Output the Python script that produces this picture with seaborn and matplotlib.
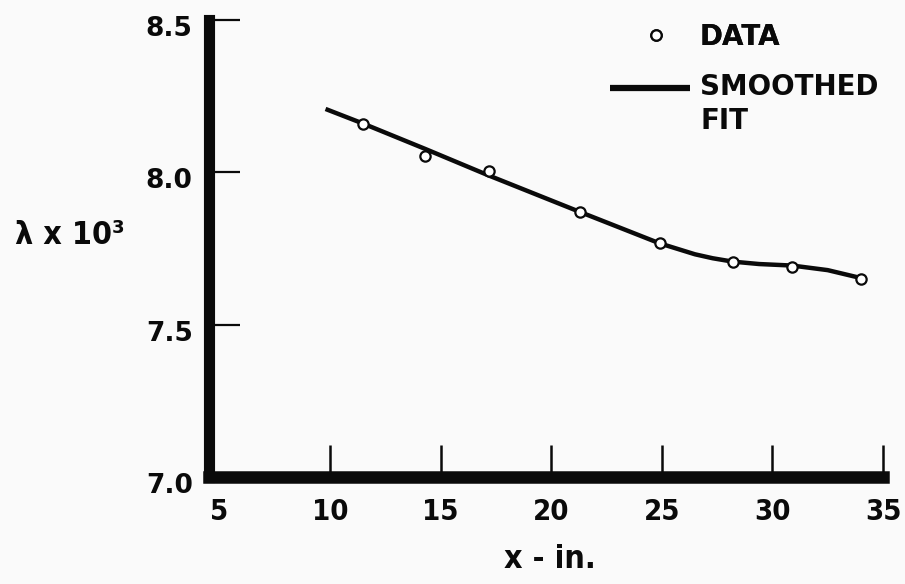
import numpy as np
import pandas as pd
import seaborn as sns
import matplotlib.pyplot as plt
import matplotlib.transforms as mtransforms
from matplotlib.lines import Line2D
from matplotlib.legend_handler import HandlerLine2D
from matplotlib import font_manager
from matplotlib.font_manager import FontProperties

# Measured lambda values along the plate
x_in = [11.5, 14.3, 17.2, 21.3, 24.9, 28.2, 30.9, 34.0]
lam = [8.160, 8.055, 8.005, 7.869, 7.767, 7.707, 7.690, 7.650]

# Smoothed fit through the measurements
fit_x = [9.8, 11.5, 14.3, 17.2, 21.3, 24.9, 25.7, 26.5, 27.3, 28.2, 29.4, 30.9, 32.5, 34.0]
fit_lam = [8.208, 8.160, 8.077, 7.989, 7.870, 7.767, 7.749, 7.731, 7.718, 7.707, 7.699, 7.694, 7.679, 7.653]

x_ticks = [5, 10, 15, 20, 25, 30, 35]
y_ticks = [7.0, 7.5, 8.0, 8.5]
y_tick_labels = ["7.0", "7.5", "8.0", "8.5"]

sns.set_theme(style="white")
plt.rcParams["font.family"] = ["DejaVu Sans"]

# condensed bold face for the axis lettering, if available
cond_fp = FontProperties(family="DejaVu Sans", stretch="condensed", weight="bold")
try:
    path = font_manager.findfont(cond_fp, fallback_to_default=False)
    use_cond = "Condensed" in path
except Exception:
    use_cond = False
cond = "condensed" if use_cond else "normal"

bg = "#fafafa"
ink = "#0a0a0a"

fig = plt.figure(figsize=(9.05, 5.84), dpi=100, facecolor=bg)
W, H = 905, 584
left_px, right_px = 209.4, 883.0
top_px, bot_px = 20.0, 477.0
ax = fig.add_axes([left_px / W, 1 - bot_px / H, (right_px - left_px) / W, (bot_px - top_px) / H])
ax.set_facecolor(bg)

fit_df = pd.DataFrame({"x": fit_x, "lam": fit_lam})
pts_df = pd.DataFrame({"x": x_in, "lam": lam})

sns.lineplot(data=fit_df, x="x", y="lam", sort=False, color=ink, lw=3.2,
             ax=ax, solid_joinstyle="round", solid_capstyle="butt", zorder=3)
sns.scatterplot(data=pts_df, x="x", y="lam", marker="o", s=55, facecolor="white",
                edgecolor=ink, linewidth=1.6, ax=ax, zorder=4)

ax.set_xlim(4.55, 35)
ax.set_ylim(7.0, 8.5)
ax.set_xticks(x_ticks)
ax.set_xticklabels([str(t) for t in x_ticks], fontweight="bold", fontsize=21, fontstretch=cond)
ax.set_yticks(y_ticks)
ax.set_yticklabels(y_tick_labels, fontweight="bold", fontsize=19)

for s in ("top", "right"):
    ax.spines[s].set_visible(False)
ax.spines["left"].set_linewidth(8)
ax.spines["bottom"].set_linewidth(9)
ax.spines["left"].set_color(ink)
ax.spines["bottom"].set_color(ink)
ax.spines["left"].set_capstyle("projecting")

ax.tick_params(axis="x", bottom=True, direction="in", length=23, width=1.8, color=ink,
               pad=15, labelcolor=ink)
ax.tick_params(axis="y", left=True, direction="in", length=22, width=1.6, color=ink,
               pad=12, labelcolor=ink)
# the first x tick sits under the vertical axis line
ax.xaxis.get_major_ticks()[0].tick1line.set_visible(False)
# y tick labels hang slightly below their ticks
shift = mtransforms.ScaledTranslation(0, -6 / 100, fig.dpi_scale_trans)
for lbl in ax.get_yticklabels():
    lbl.set_transform(lbl.get_transform() + shift)

ax.set_xlabel("x - in.", fontweight="bold", fontsize=23, color=ink, fontstretch=cond)
ax.xaxis.set_label_coords((550 - left_px) / (right_px - left_px), (bot_px - 559) / (bot_px - top_px))
ax.xaxis.label.set_va("center")
ax.set_ylabel("λ x 10³", rotation=0, fontweight="bold", fontsize=23, color=ink, fontstretch=cond)
ax.yaxis.set_label_coords((70 - left_px) / (right_px - left_px), (bot_px - 236) / (bot_px - top_px))
ax.yaxis.label.set_va("center")
ax.yaxis.label.set_ha("center")


class FirstLineHandler(HandlerLine2D):
    """Line key aligned with the first row of a two-row label."""

    def __init__(self, lift, **kw):
        super().__init__(**kw)
        self.lift = lift

    def create_artists(self, legend, orig_handle, xdescent, ydescent, width, height,
                       fontsize, trans):
        arts = super().create_artists(legend, orig_handle, xdescent, ydescent, width,
                                      height, fontsize, trans)
        for a in arts:
            a.set_ydata(np.asarray(a.get_ydata(), float) + self.lift)
        return arts


# Legend entries
data_handle = Line2D([], [], ls="none", marker="o", markersize=7.5, markerfacecolor="white",
                     markeredgecolor=ink, markeredgewidth=1.6)
fit_handle = Line2D([], [], color=ink, lw=4.5, solid_capstyle="butt")

fs = 20
em = fs * 100 / 72  # font size in pixels
leg1 = fig.legend([data_handle], ["DATA"], loc="center left",
                  bbox_to_anchor=(642 / W, 1 - 37 / H), frameon=False,
                  handlelength=1.0, handletextpad=30 / em,
                  borderpad=0, borderaxespad=0, prop={"weight": "bold", "size": fs})
fig.add_artist(leg1)
leg2 = fig.legend([fit_handle], ["SMOOTHED\nFIT"], loc="center left",
                  bbox_to_anchor=(610 / W, 1 - 104 / H), frameon=False,
                  handlelength=80 / em, handletextpad=10 / em,
                  borderpad=0, borderaxespad=0, prop={"weight": "bold", "size": fs},
                  handler_map={fit_handle: FirstLineHandler(lift=12.5)})
for lg in (leg1, leg2):
    for t in lg.get_texts():
        t.set_color(ink)
        t.set_linespacing(1.28)

fig.savefig("out.png", dpi=100, facecolor=bg)
